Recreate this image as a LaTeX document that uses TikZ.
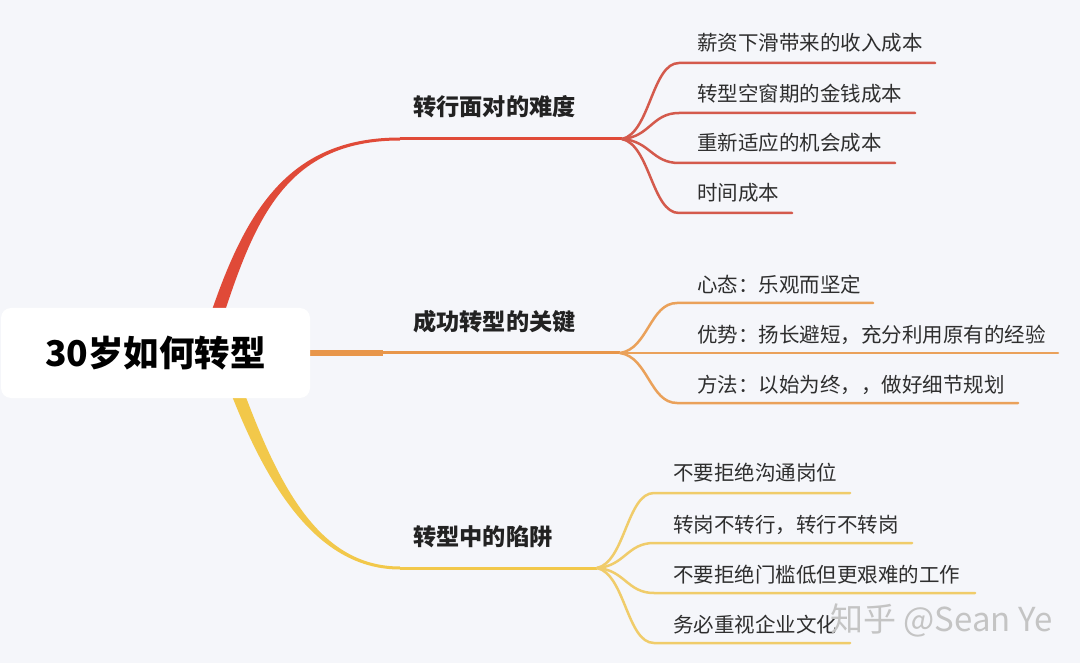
\documentclass[tikz,border=0pt]{standalone}
\usepackage{fontspec}
\newfontfamily\cjk{Noto Sans CJK SC}
\definecolor{bgc}{HTML}{F5F6FA}
\definecolor{redc}{HTML}{E04A38}
\definecolor{redl}{HTML}{D45A4C}
\definecolor{orc}{HTML}{E8964A}
\definecolor{orl}{HTML}{EAA15A}
\definecolor{yec}{HTML}{F2C84A}
\definecolor{yel}{HTML}{F0CC6A}
\definecolor{labc}{HTML}{222222}
\definecolor{leafc}{HTML}{2E2E2E}
\definecolor{wmc}{HTML}{C4C4C4}
\begin{document}
\begin{tikzpicture}[x=1pt,y=-1pt,
  leaf/.style={anchor=west, inner sep=0pt, text=leafc, font=\cjk\fontsize{20.5}{24}\selectfont},
  branch/.style={anchor=west, inner sep=0pt, text=labc, font=\cjk\bfseries\fontsize{23.2}{27}\selectfont},
  rootbox/.style={fill=white, rounded corners=10pt, minimum width=309pt, minimum height=90pt, inner sep=0pt, text=black, font=\cjk\bfseries\fontsize{35.5}{40}\selectfont},
  rleaf/.style={draw=redl, line width=2.5pt, line cap=round},
  oleaf/.style={draw=orl, line width=2.5pt, line cap=round},
  yleaf/.style={draw=yel, line width=2.5pt, line cap=round}]
\fill[bgc] (0,0) rectangle (1080,663);
\useasboundingbox (0,0) rectangle (1080,663);

% junction / fan coordinates
\coordinate (rj) at (400,139);
\coordinate (rf) at (622,139);
\coordinate (oj) at (383,353);
\coordinate (of) at (620,353);
\coordinate (yj) at (400,568);
\coordinate (yf) at (597,568);

% main branches (tapered)
\fill[redc] (212,310) .. controls (247,209) and (290,137.5) .. (400,137.5)
  -- (400,140.5) .. controls (290,140.5) and (257,213) .. (224,314) -- cycle;
\draw[redc, line width=3pt] (rj) -- (rf);
\draw[orc, line width=6pt] (300,353) -- (oj);
\draw[orc, line width=3pt] (oj) -- (of);
\fill[yec] (232,396) .. controls (270,492) and (320,569.5) .. (400,569.5)
  -- (400,566.5) .. controls (320,566.5) and (280,488) .. (244,392) -- cycle;
\draw[yec, line width=3pt] (yj) -- (yf);

% root
\node[rootbox] (root) at (155.5,353) {30岁如何转型};

% branch labels
\node[branch] (b1) at (413,107) {转行面对的难度};
\node[branch] (b2) at (413,322) {成功转型的关键};
\node[branch] (b3) at (413,537) {转型中的陷阱};

% red leaves
\node[leaf] (r1) at (697,43) {薪资下滑带来的收入成本};
\node[leaf] (r2) at (697,94) {转型空窗期的金钱成本};
\node[leaf] (r3) at (697,143) {重新适应的机会成本};
\node[leaf] (r4) at (697,193) {时间成本};
\coordinate (r1e) at (935,63);
\coordinate (r2e) at (915,113);
\coordinate (r3e) at (895,163);
\coordinate (r4e) at (792,213);
\draw[rleaf] (rf) .. controls (650,133) and (652,63) .. (679,63) -- (r1e);
\draw[rleaf] (rf) .. controls (650,137) and (652,113) .. (679,113) -- (r2e);
\draw[rleaf] (rf) .. controls (650,141) and (652,163) .. (679,163) -- (r3e);
\draw[rleaf] (rf) .. controls (650,145) and (652,213) .. (679,213) -- (r4e);

% orange leaves
\node[leaf] (o1) at (697,285) {心态：乐观而坚定};
\node[leaf] (o2) at (697,335) {优势：扬长避短，充分利用原有的经验};
\node[leaf] (o3) at (697,385) {方法：以始为终，，做好细节规划};
\coordinate (o1e) at (873,303);
\coordinate (o2e) at (1058,353);
\coordinate (o3e) at (1018,403);
\draw[oleaf] (of) .. controls (648,349) and (650,303) .. (677,303) -- (o1e);
\draw[oleaf] (of) -- (o2e);
\draw[oleaf] (of) .. controls (648,357) and (650,403) .. (677,403) -- (o3e);

% yellow leaves
\node[leaf] (y1) at (673,473) {不要拒绝沟通岗位};
\node[leaf] (y2) at (673,525) {转岗不转行，转行不转岗};
\node[leaf] (y3) at (673,575) {不要拒绝门槛低但更艰难的工作};
\node[leaf] (y4) at (673,625) {务必重视企业文化};
\coordinate (y1e) at (850,493);
\coordinate (y2e) at (912,543);
\coordinate (y3e) at (975,593);
\coordinate (y4e) at (850,643);
\draw[yleaf] (yf) .. controls (625,562) and (627,493) .. (654,493) -- (y1e);
\draw[yleaf] (yf) .. controls (625,566) and (627,543) .. (654,543) -- (y2e);
\draw[yleaf] (yf) .. controls (625,570) and (627,593) .. (654,593) -- (y3e);
\draw[yleaf] (yf) .. controls (625,574) and (627,643) .. (654,643) -- (y4e);

% watermark
\node[anchor=west, inner sep=0pt, text=wmc, font=\cjk\fontsize{33}{37}\selectfont] (wm) at (830,620) {知乎 @Sean Ye};
\end{tikzpicture}
\end{document}
